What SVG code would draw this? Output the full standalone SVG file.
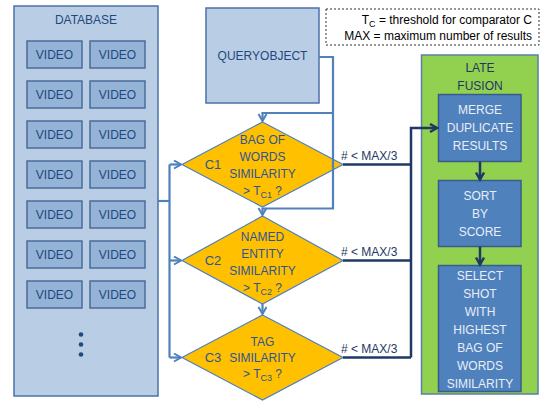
<svg xmlns="http://www.w3.org/2000/svg" width="544" height="401" viewBox="0 0 544 401">
<defs>
<style>
text{font-family:"Liberation Sans",Arial,sans-serif;font-size:12px;}
.db{fill:#B9CDE5;stroke:#4A72A8;stroke-width:1.5;}
.vid{fill:#95B3D7;stroke:#4A6C9B;stroke-width:1.5;}
.dt{fill:#1F497D;text-anchor:middle;}
.dia{fill:#FFC000;stroke:#4F81BD;stroke-width:1.2;}
.dtx{fill:#2F5496;text-anchor:middle;}
.blue{fill:#4F81BD;stroke:#385D8A;stroke-width:1.5;}
.wt{fill:#E8EEF7;text-anchor:middle;}
.nav{fill:#1F3864;}
.cb{fill:none;stroke:#4F81BD;stroke-width:2.2;}
.cn{fill:none;stroke:#1F3864;stroke-width:2.5;}
.sub{font-size:9px;}
</style>
<marker id="ab" markerUnits="userSpaceOnUse" markerWidth="12" markerHeight="12" refX="9" refY="5" orient="auto">
<path d="M2,1 L9,5 L2,9" fill="none" stroke="#4F81BD" stroke-width="2"/>
</marker>
<marker id="an" markerUnits="userSpaceOnUse" markerWidth="12" markerHeight="12" refX="9" refY="5" orient="auto">
<path d="M2,1 L9,5 L2,9" fill="none" stroke="#1F3864" stroke-width="2.5"/>
</marker>
</defs>
<rect width="544" height="401" fill="#FFFFFF"/>

<g id="database">
<rect class="db" x="14" y="6" width="144" height="390"/>
<text class="dt" x="86" y="24">DATABASE</text>
<rect class="vid" x="27" y="41" width="55" height="27"/><text class="dt" x="54.5" y="59">VIDEO</text>
<rect class="vid" x="90" y="41" width="55" height="27"/><text class="dt" x="117.5" y="59">VIDEO</text>
<rect class="vid" x="27" y="81" width="55" height="27"/><text class="dt" x="54.5" y="99">VIDEO</text>
<rect class="vid" x="90" y="81" width="55" height="27"/><text class="dt" x="117.5" y="99">VIDEO</text>
<rect class="vid" x="27" y="121" width="55" height="27"/><text class="dt" x="54.5" y="139">VIDEO</text>
<rect class="vid" x="90" y="121" width="55" height="27"/><text class="dt" x="117.5" y="139">VIDEO</text>
<rect class="vid" x="27" y="161" width="55" height="27"/><text class="dt" x="54.5" y="179">VIDEO</text>
<rect class="vid" x="90" y="161" width="55" height="27"/><text class="dt" x="117.5" y="179">VIDEO</text>
<rect class="vid" x="27" y="201" width="55" height="27"/><text class="dt" x="54.5" y="219">VIDEO</text>
<rect class="vid" x="90" y="201" width="55" height="27"/><text class="dt" x="117.5" y="219">VIDEO</text>
<rect class="vid" x="27" y="241" width="55" height="27"/><text class="dt" x="54.5" y="259">VIDEO</text>
<rect class="vid" x="90" y="241" width="55" height="27"/><text class="dt" x="117.5" y="259">VIDEO</text>
<rect class="vid" x="27" y="281" width="55" height="27"/><text class="dt" x="54.5" y="299">VIDEO</text>
<rect class="vid" x="90" y="281" width="55" height="27"/><text class="dt" x="117.5" y="299">VIDEO</text>
<circle cx="81" cy="334.5" r="2.3" fill="#1F497D"/>
<circle cx="81" cy="344.5" r="2.3" fill="#1F497D"/>
<circle cx="81" cy="354.5" r="2.3" fill="#1F497D"/>
</g>

<g id="queryobject">
<rect class="db" x="206" y="8" width="113" height="95"/>
<text class="dt" x="262.5" y="60">QUERYOBJECT</text>
</g>

<g id="legend">
<rect x="326" y="9" width="213" height="36" fill="#FFFFFF" stroke="#333333" stroke-width="1" stroke-dasharray="2,2"/>
<text x="532" y="24" text-anchor="end" fill="#000">T<tspan class="sub" dy="3">C</tspan><tspan dy="-3"> = threshold for comparator C</tspan></text>
<text x="532" y="40" text-anchor="end" fill="#000">MAX = maximum number of results</text>
</g>

<g id="c1">
<polygon class="dia" points="262.5,122 343,164.5 262.5,207 182,164.5"/>
<text class="dtx" x="213" y="169" style="font-size:13px">C1</text>
<text class="dtx" x="262.5" y="143.5">BAG OF</text>
<text class="dtx" x="262.5" y="160.5">WORDS</text>
<text class="dtx" x="262.5" y="177.5">SIMILARITY</text>
<text class="dtx" x="262.5" y="194.5">&gt; T<tspan class="sub" dy="3">C1</tspan><tspan dy="-3"> ?</tspan></text>
</g>

<g id="c2">
<polygon class="dia" points="262.5,216 343,260.5 262.5,304 182,260.5"/>
<text class="dtx" x="213" y="265" style="font-size:13px">C2</text>
<text class="dtx" x="262.5" y="241">NAMED</text>
<text class="dtx" x="262.5" y="258">ENTITY</text>
<text class="dtx" x="262.5" y="275">SIMILARITY</text>
<text class="dtx" x="262.5" y="292">&gt; T<tspan class="sub" dy="3">C2</tspan><tspan dy="-3"> ?</tspan></text>
</g>

<g id="c3">
<polygon class="dia" points="262.5,315 343,357.5 262.5,400 182,357.5"/>
<text class="dtx" x="213" y="362" style="font-size:13px">C3</text>
<text class="dtx" x="262.5" y="346">TAG</text>
<text class="dtx" x="262.5" y="362">SIMILARITY</text>
<text class="dtx" x="262.5" y="378">&gt; T<tspan class="sub" dy="3">C3</tspan><tspan dy="-3"> ?</tspan></text>
</g>

<g id="latefusion">
<rect x="421.5" y="55" width="116.5" height="339" fill="#92D050" stroke="#5B7FA8" stroke-width="1.5"/>
<text class="nav" x="480" y="72" text-anchor="middle">LATE</text>
<text class="nav" x="480" y="90" text-anchor="middle">FUSION</text>
</g>

<g id="merge">
<rect class="blue" x="438.5" y="94.5" width="82.5" height="67"/>
<text class="wt" x="480" y="114">MERGE</text>
<text class="wt" x="480" y="132">DUPLICATE</text>
<text class="wt" x="480" y="150">RESULTS</text>
</g>

<g id="sort">
<rect class="blue" x="438.5" y="180.5" width="82.5" height="66"/>
<text class="wt" x="480" y="200">SORT</text>
<text class="wt" x="480" y="218">BY</text>
<text class="wt" x="480" y="236">SCORE</text>
</g>

<g id="select">
<rect class="blue" x="438.5" y="265.5" width="82.5" height="126"/>
<text class="wt" x="480" y="280">SELECT</text>
<text class="wt" x="480" y="298">SHOT</text>
<text class="wt" x="480" y="316">WITH</text>
<text class="wt" x="480" y="334">HIGHEST</text>
<text class="wt" x="480" y="352">BAG OF</text>
<text class="wt" x="480" y="370">WORDS</text>
<text class="wt" x="480" y="388">SIMILARITY</text>
</g>

<g id="connectors">
<path class="cb" d="M158,201 H169.5"/>
<path class="cb" d="M169.5,164.5 V357.5"/>
<path class="cb" d="M169.5,164.5 H181" marker-end="url(#ab)"/>
<path class="cb" d="M169.5,260.5 H181" marker-end="url(#ab)"/>
<path class="cb" d="M169.5,357.5 H181" marker-end="url(#ab)"/>
<path class="cb" d="M319,57 H333 V208.5 H262.5 V215" marker-end="url(#ab)"/>
<path class="cb" d="M333,113 H262.5 V121" marker-end="url(#ab)"/>
<path class="cb" d="M262.5,304 V314" marker-end="url(#ab)"/>
<path class="cn" d="M343,164.5 H411"/>
<path class="cn" d="M343,260.5 H411"/>
<path class="cn" d="M343,357.5 H411"/>
<path class="cn" d="M411,357.5 V128 H437" marker-end="url(#an)"/>
<path class="cn" d="M480,161.5 V179.5" marker-end="url(#an)"/>
<path class="cn" d="M480,246.5 V264.5" marker-end="url(#an)"/>
<text class="nav" x="341" y="160">#  &lt; MAX/3</text>
<text class="nav" x="341" y="256">#  &lt; MAX/3</text>
<text class="nav" x="341" y="353">#  &lt; MAX/3</text>
</g>
</svg>
